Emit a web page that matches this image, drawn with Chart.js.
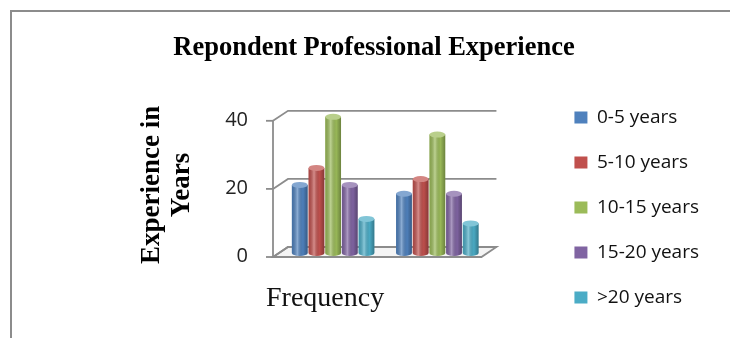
<!DOCTYPE html>
<html>
<head>
<meta charset="utf-8">
<script src="https://cdn.jsdelivr.net/npm/chart.js@4"></script>
<style>
  html, body { margin: 0; padding: 0; background: #fff; overflow: hidden; }
  #frame { position: absolute; left: 10px; top: 10px; width: 730px; height: 340px; border-left: 2px solid #8c8c8c; border-top: 2px solid #8c8c8c; }
  #wrap { position: absolute; left: 0; top: 0; width: 730px; height: 338px; }
</style>
</head>
<body>
<div id="frame"></div>
<div id="wrap"><canvas id="chart" width="730" height="338"></canvas></div>
<script>
// data (second group looks like the percentage of 115)
const categories = ['Frequency', ''];
const seriesNames = ['0-5 years', '5-10 years', '10-15 years', '15-20 years', '>20 years'];
const zeroToFive = [20, 17.4];
const fiveToTen = [25, 21.7];
const tenToFifteen = [40, 34.8];
const fifteenToTwenty = [20, 17.4];
const overTwenty = [10, 8.7];
const yTicks = [0, 20, 40];

const colors = ['#4F81BD', '#C0504D', '#9BBB59', '#8064A2', '#4BACC6'];
const seriesValues = [zeroToFive, fiveToTen, tenToFifteen, fifteenToTwenty, overTwenty];

// 3D offsets of the front and back planes relative to the bars
const FRONT = { dx: -8, dy: 4 };
const BACK = { dx: 7, dy: -6 };

function tint(hex, f) {
    const n = parseInt(hex.slice(1), 16);
    const mix = c => Math.round(c + (255 - c) * f);
    return `rgb(${mix(n >> 16)}, ${mix((n >> 8) & 255)}, ${mix(n & 255)})`;
}

const frame3d = {
    id: 'frame3d',
    beforeDatasetsDraw(chart) {
        const { ctx, chartArea: a, scales: { y } } = chart;
        const base = y.getPixelForValue(0);
        const top = y.getPixelForValue(yTicks[yTicks.length - 1]);
        ctx.save();
        ctx.strokeStyle = '#8c8c8c';
        ctx.lineWidth = 1.8;

        // floor
        ctx.beginPath();
        ctx.moveTo(a.left + FRONT.dx, base + FRONT.dy);
        ctx.lineTo(a.right + FRONT.dx, base + FRONT.dy);
        ctx.lineTo(a.right + BACK.dx, base + BACK.dy);
        ctx.lineTo(a.left + BACK.dx, base + BACK.dy);
        ctx.closePath();
        ctx.fillStyle = '#f4f4f4';
        ctx.fill();
        ctx.stroke();

        // side wall lines, back wall gridlines, tick marks
        yTicks.forEach(v => {
            const py = y.getPixelForValue(v);
            ctx.beginPath();
            ctx.moveTo(a.left + FRONT.dx, py + FRONT.dy);
            ctx.lineTo(a.left + BACK.dx, py + BACK.dy);
            ctx.lineTo(a.right + BACK.dx, py + BACK.dy);
            ctx.stroke();
            ctx.beginPath();
            ctx.moveTo(a.left + FRONT.dx - 7, py + FRONT.dy);
            ctx.lineTo(a.left + FRONT.dx, py + FRONT.dy);
            ctx.stroke();
        });

        // front value axis
        ctx.beginPath();
        ctx.moveTo(a.left + FRONT.dx, top + FRONT.dy);
        ctx.lineTo(a.left + FRONT.dx, base + FRONT.dy);
        ctx.stroke();
        ctx.restore();
    },
    afterDatasetsDraw(chart) {
        const { ctx } = chart;
        ctx.save();
        chart.data.datasets.forEach((ds, i) => {
            const color = colors[i];
            chart.getDatasetMeta(i).data.forEach(bar => {
                const rx = bar.width / 2, ry = 3;
                const l = bar.x - rx, r = bar.x + rx;
                // round bottom
                ctx.fillStyle = color;
                ctx.beginPath();
                ctx.ellipse(bar.x, bar.base, rx, ry, 0, 0, Math.PI);
                ctx.fill();
                // cylinder shading
                const g = ctx.createLinearGradient(l, 0, r, 0);
                g.addColorStop(0, 'rgba(0,0,0,0.12)');
                g.addColorStop(0.35, 'rgba(255,255,255,0.35)');
                g.addColorStop(0.7, 'rgba(0,0,0,0.02)');
                g.addColorStop(1, 'rgba(0,0,0,0.3)');
                ctx.fillStyle = g;
                ctx.beginPath();
                ctx.rect(l, bar.y, bar.width, bar.base - bar.y);
                ctx.fill();
                ctx.beginPath();
                ctx.ellipse(bar.x, bar.base, rx, ry, 0, 0, Math.PI);
                ctx.fill();
                // top cap
                ctx.fillStyle = tint(color, 0.3);
                ctx.beginPath();
                ctx.ellipse(bar.x, bar.y, rx, ry, 0, 0, Math.PI * 2);
                ctx.fill();
            });
        });
        ctx.restore();
    }
};

const serif = "'Liberation Serif', 'Times New Roman', serif";
const sans = "'Open Sans', sans-serif";

new Chart(document.getElementById('chart'), {
    type: 'bar',
    data: {
        labels: categories,
        datasets: seriesNames.map((name, i) => ({
            label: name,
            data: seriesValues[i],
            backgroundColor: colors[i],
            borderWidth: 0,
            categoryPercentage: 0.8,
            barPercentage: 0.95
        }))
    },
    options: {
        responsive: false,
        animation: false,
        layout: { padding: { left: 39, right: 21, top: 0, bottom: 5 } },
        plugins: {
            title: {
                display: true,
                text: 'Repondent Professional Experience',
                color: '#000',
                font: { family: serif, size: 26.5, weight: 'bold' },
                padding: { top: 32, bottom: 53 }
            },
            legend: {
                position: 'right',
                align: 'end',
                maxWidth: 170,
                labels: {
                    boxWidth: 13,
                    boxHeight: 12,
                    padding: 26,
                    color: '#111',
                    font: { family: sans, size: 19 }
                }
            },
            tooltip: { enabled: false }
        },
        scales: {
            x: {
                grid: { display: false, drawTicks: false },
                border: { display: false },
                ticks: {
                    color: '#111',
                    padding: 29,
                    labelOffset: -8,
                    autoSkip: false,
                    maxRotation: 0,
                    minRotation: 0,
                    font: { family: serif, size: 28 }
                },
                afterFit(scale) {
                    scale.height = 80;
                }
            },
            y: {
                min: 0,
                max: 40,
                grid: { display: false, drawTicks: false },
                border: { display: false },
                ticks: {
                    stepSize: 20,
                    padding: 33,
                    labelOffset: 3.5,
                    color: '#222',
                    font: { family: sans, size: 20 }
                },
                title: {
                    display: true,
                    text: ['Experience in', 'Years'],
                    color: '#000',
                    font: { family: serif, size: 27, weight: 'bold', lineHeight: 1.1 },
                    padding: { top: 98, bottom: 0 }
                },
                afterFit(scale) {
                    scale.width = 242;
                }
            },
            // empty spacer between the plot and the legend (room for the 3D depth)
            gap: {
                type: 'linear',
                position: 'right',
                grid: { display: false, drawTicks: false },
                border: { display: false },
                ticks: { display: false },
                afterFit(scale) {
                    scale.width = 59;
                }
            }
        }
    },
    plugins: [frame3d]
});
</script>
</body>
</html>
